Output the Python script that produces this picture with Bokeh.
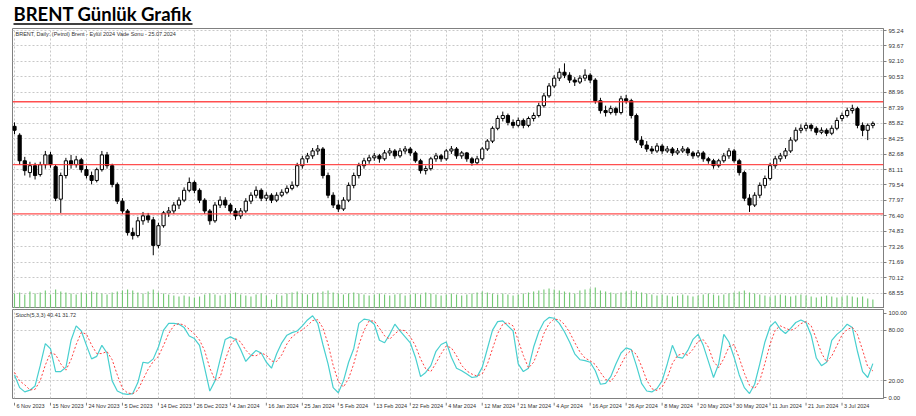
from bokeh.plotting import figure
from bokeh.layouts import column
from bokeh.models import (ColumnDataSource, Range1d, FixedTicker, Span, Label,
                          PrintfTickFormatter)
from bokeh.embed import file_html
from bokeh.resources import INLINE
from bokeh.core.properties import value

# ---------------- data ----------------
title_text = "BRENT Günlük Grafik"
header_text = "BRENT, Daily: (Petrol) Brent - Eylül 2024 Vade Sonu - 25.07.2024"
stoch_text = "Stoch(5,3,3) 40.41 31.72"

tick_labels = ["6 Nov 2023", "15 Nov 2023", "24 Nov 2023", "5 Dec 2023", "14 Dec 2023",
               "26 Dec 2023", "4 Jan 2024", "16 Jan 2024", "25 Jan 2024", "5 Feb 2024",
               "13 Feb 2024", "22 Feb 2024", "4 Mar 2024", "12 Mar 2024", "21 Mar 2024",
               "4 Apr 2024", "16 Apr 2024", "26 Apr 2024", "8 May 2024", "20 May 2024",
               "30 May 2024", "11 Jun 2024", "21 Jun 2024", "3 Jul 2024"]
tick_bars = [0, 7, 14, 21, 28, 35, 42, 49, 56, 63, 70, 77, 84, 91, 98, 105, 112, 119,
             126, 133, 140, 147, 154, 161]

price_ticks = [68.55, 70.12, 71.69, 73.26, 74.83, 76.40, 77.97, 79.54, 81.11, 82.68,
               84.25, 85.82, 87.39, 88.96, 90.53, 92.10, 93.67, 95.24]
stoch_ticks = [0, 20, 80, 100]
stoch_levels = [20, 80]
levels = [88.00, 81.60, 76.60]

# daily candles (open, high, low, close)
opens = [85.5, 84.6, 82.0, 80.8, 81.5, 80.6, 81.6, 82.6, 81.4, 78.1,
         80.5, 82.0, 81.6, 82.1, 81.1, 80.5, 80.0, 81.1, 82.6, 81.5,
         79.6, 77.9, 76.9, 74.7, 74.4, 75.9, 76.4, 76.0, 73.4, 75.4,
         76.7, 76.9, 77.5, 78.0, 79.0, 79.8, 79.0, 78.0, 76.9, 75.9,
         77.5, 78.0, 77.5, 76.9, 76.4, 76.9, 77.9, 78.5, 79.0, 78.2,
         78.5, 78.0, 78.5, 78.8, 79.2, 79.5, 81.5, 82.2, 82.5, 83.0,
         83.2, 80.5, 78.5, 77.5, 77.1, 78.0, 79.5, 80.5, 81.5, 82.0,
         82.3, 82.5, 82.2, 82.8, 83.0, 82.5, 83.0, 83.2, 82.8, 82.0,
         81.0, 81.2, 82.2, 82.5, 82.2, 83.0, 83.2, 82.5, 82.8, 82.2,
         81.8, 82.2, 83.2, 84.0, 85.3, 86.3, 86.6, 85.9, 85.6, 86.1,
         85.6, 86.3, 86.6, 87.6, 88.6, 89.6, 90.4, 91.0, 90.7, 90.2,
         90.0, 90.4, 90.7, 90.2, 88.1, 87.1, 86.9, 87.3, 86.9, 88.3,
         88.1, 86.6, 84.1, 83.6, 83.2, 83.0, 83.5, 83.0, 83.2, 82.8,
         83.0, 83.2, 82.8, 82.5, 82.8, 82.2, 82.0, 81.5, 82.0, 82.5,
         83.0, 82.0, 80.8, 78.2, 77.5, 78.5, 79.5, 80.2, 81.5, 82.2,
         82.5, 83.0, 84.1, 85.1, 85.3, 85.6, 85.3, 84.9, 85.1, 84.8,
         85.3, 86.3, 86.6, 87.1, 87.3, 85.6, 85.1, 85.6]
highs = [85.9, 84.8, 82.4, 81.9, 81.8, 81.9, 83.0, 82.9, 81.6, 80.8,
         82.3, 82.6, 82.5, 82.3, 81.5, 80.9, 81.3, 83.0, 82.9, 81.7,
         79.8, 78.2, 77.1, 75.2, 76.3, 76.8, 76.7, 76.3, 75.7, 76.9,
         77.3, 77.8, 78.3, 79.3, 80.3, 80.0, 79.2, 78.2, 77.1, 77.8,
         78.4, 78.3, 77.7, 77.2, 77.2, 78.2, 78.8, 79.4, 79.2, 78.8,
         78.7, 78.8, 79.1, 79.5, 79.9, 81.8, 82.5, 82.8, 83.3, 83.6,
         83.4, 80.8, 78.8, 78.0, 78.3, 79.8, 80.8, 81.8, 82.3, 82.6,
         82.8, 82.7, 83.1, 83.3, 83.2, 83.3, 83.5, 83.4, 83.0, 82.2,
         81.5, 82.4, 82.8, 82.7, 83.2, 83.5, 83.4, 83.0, 82.9, 82.4,
         82.5, 83.4, 84.2, 85.5, 86.6, 87.0, 86.8, 86.2, 86.4, 86.3,
         86.5, 86.9, 87.9, 88.9, 89.9, 90.7, 91.4, 91.9, 91.0, 90.5,
         90.7, 91.3, 90.9, 90.4, 88.4, 87.6, 87.6, 87.5, 88.6, 88.7,
         88.3, 86.8, 84.5, 84.0, 83.5, 83.8, 83.7, 83.5, 83.4, 83.3,
         83.5, 83.4, 83.0, 83.1, 83.0, 82.4, 82.2, 82.2, 82.8, 83.3,
         83.2, 82.2, 81.0, 78.6, 78.8, 79.8, 80.5, 81.8, 82.5, 82.8,
         83.3, 84.4, 85.4, 85.7, 85.9, 85.8, 85.5, 85.4, 85.3, 85.6,
         86.4, 86.9, 87.4, 87.7, 87.5, 85.9, 85.8, 86.0]
lows = [84.7, 81.6, 80.5, 80.3, 80.1, 80.4, 81.2, 81.3, 77.9, 76.7,
        80.2, 81.2, 81.3, 80.8, 80.2, 79.6, 79.8, 80.9, 81.2, 79.3,
        77.6, 76.6, 74.4, 74.0, 74.2, 75.5, 75.7, 72.4, 73.1, 75.2,
        76.3, 76.6, 77.1, 77.8, 78.8, 78.7, 77.7, 76.6, 75.5, 75.7,
        77.2, 77.2, 76.6, 76.0, 76.1, 76.7, 77.6, 78.2, 77.9, 77.9,
        77.7, 77.8, 78.3, 78.6, 79.0, 79.3, 81.2, 81.8, 82.2, 82.6,
        80.2, 78.2, 77.2, 76.8, 76.9, 77.8, 79.2, 80.2, 81.2, 81.7,
        82.0, 81.8, 82.0, 82.5, 82.2, 82.3, 82.7, 82.5, 81.8, 80.7,
        80.6, 81.0, 81.9, 81.9, 82.0, 82.7, 82.2, 82.2, 81.9, 81.5,
        81.6, 82.0, 83.0, 83.8, 85.1, 86.0, 85.6, 85.3, 85.4, 85.3,
        85.4, 86.0, 86.4, 87.4, 88.4, 89.4, 90.1, 90.4, 89.9, 89.6,
        89.8, 90.1, 89.9, 87.8, 86.8, 86.5, 86.7, 86.6, 86.7, 87.8,
        86.3, 83.8, 83.3, 82.9, 82.7, 82.8, 82.7, 82.8, 82.5, 82.6,
        82.8, 82.5, 82.2, 82.3, 81.9, 81.7, 81.2, 81.3, 81.8, 82.2,
        81.8, 80.5, 77.9, 76.8, 77.3, 78.2, 79.2, 80.0, 81.2, 81.9,
        82.2, 82.8, 83.9, 84.8, 85.0, 85.0, 84.6, 84.7, 84.5, 84.6,
        85.1, 86.0, 86.4, 86.8, 85.3, 84.5, 84.1, 85.3]
closes = [85.1, 82.0, 81.0, 81.5, 80.5, 81.6, 82.6, 81.6, 78.2, 80.5,
          82.0, 81.6, 82.1, 81.1, 80.5, 80.0, 81.1, 82.6, 81.5, 79.6,
          77.9, 76.9, 74.7, 74.4, 75.9, 76.4, 76.0, 73.4, 75.4, 76.7,
          76.9, 77.5, 78.0, 79.0, 79.8, 79.0, 78.0, 76.9, 75.9, 77.5,
          78.0, 77.5, 76.9, 76.4, 76.9, 77.9, 78.5, 79.0, 78.2, 78.5,
          78.0, 78.5, 78.8, 79.2, 79.5, 81.5, 82.2, 82.5, 83.0, 83.2,
          80.5, 78.5, 77.5, 77.1, 78.0, 79.5, 80.5, 81.5, 82.0, 82.3,
          82.5, 82.2, 82.8, 83.0, 82.5, 83.0, 83.2, 82.8, 82.0, 81.0,
          81.2, 82.2, 82.5, 82.2, 83.0, 83.2, 82.5, 82.8, 82.2, 81.8,
          82.2, 83.2, 84.0, 85.3, 86.3, 86.6, 85.9, 85.6, 86.1, 85.6,
          86.3, 86.6, 87.6, 88.6, 89.6, 90.4, 91.0, 90.7, 90.2, 90.0,
          90.4, 90.7, 90.2, 88.1, 87.1, 86.9, 87.3, 86.9, 88.3, 88.1,
          86.6, 84.1, 83.6, 83.2, 83.0, 83.5, 83.0, 83.2, 82.8, 83.0,
          83.2, 82.8, 82.5, 82.8, 82.2, 82.0, 81.5, 82.0, 82.5, 83.0,
          82.0, 80.8, 78.2, 77.5, 78.5, 79.5, 80.2, 81.5, 82.2, 82.5,
          83.0, 84.1, 85.1, 85.3, 85.6, 85.3, 84.9, 85.1, 84.8, 85.3,
          86.1, 86.6, 87.1, 87.3, 85.6, 85.1, 85.6, 85.8]

volumes = [15, 16, 14, 17, 15, 16, 18, 14, 19, 17, 16, 15, 14, 16, 15, 17, 16, 15, 14, 16,
           17, 18, 19, 18, 16, 15, 17, 19, 16, 15, 14, 13, 12, 13, 12, 11, 12, 14, 15, 14,
           13, 14, 15, 16, 14, 13, 12, 14, 15, 13, 9, 14, 13, 15, 16, 17, 15, 14, 15, 16,
           17, 18, 16, 15, 14, 15, 16, 15, 14, 13, 14, 15, 14, 13, 14, 15, 13, 14, 15, 14,
           16, 15, 14, 13, 14, 15, 14, 13, 14, 15, 16, 17, 16, 15, 14, 15, 14, 13, 14, 15,
           16, 17, 18, 19, 20, 19, 18, 17, 16, 15, 18, 19, 20, 21, 18, 17, 16, 15, 16, 17,
           18, 17, 16, 15, 14, 13, 14, 13, 12, 13, 14, 13, 12, 13, 14, 15, 14, 13, 14, 15,
           16, 17, 18, 16, 15, 14, 13, 12, 13, 14, 13, 12, 13, 14, 13, 12, 11, 12, 13, 12,
           11, 12, 13, 12, 11, 12, 10, 9]

stoch_k = [27, 12, 7, 9, 14, 38, 64, 58, 31, 31,
           36, 68, 85, 79, 62, 46, 49, 62, 53, 20,
           8, 5, 4, 5, 18, 42, 41, 46, 60, 80,
           88, 88, 87, 83, 73, 70, 62, 35, 8, 20,
           45, 69, 72, 69, 57, 43, 50, 56, 53, 42,
           35, 52, 65, 74, 77, 79, 85, 92, 97, 88,
           63, 40, 12, 6, 20, 42, 58, 88, 93, 92,
           87, 68, 65, 75, 87, 79, 72, 65, 48, 25,
           30, 38, 55, 63, 66, 48, 35, 32, 28, 24,
           25, 36, 58, 80, 90, 91, 85, 79, 40, 31,
           35, 60, 78, 90, 95, 94, 88, 78, 66, 52,
           45, 44, 42, 32, 16, 17, 25, 40, 53, 59,
           57, 38, 17, 8, 7, 11, 20, 40, 62, 48,
           47, 56, 69, 75, 62, 43, 24, 40, 75, 66,
           48, 27, 12, 5, 16, 40, 66, 84, 90, 81,
           76, 82, 89, 92, 89, 74, 47, 38, 42, 68,
           75, 80, 87, 83, 55, 31, 24, 40.41]
stoch_d = [30, 20, 15.3, 9.3, 10, 20.3, 38.7, 53.3, 51, 40,
           32.7, 45, 63, 77.3, 75.3, 62.3, 52.3, 52.3, 54.7, 45,
           27, 11, 5.7, 4.7, 9, 21.7, 33.7, 43, 49, 62,
           76, 85.3, 87.7, 86, 81, 75.3, 68.3, 55.7, 35, 21,
           24.3, 44.7, 62, 70, 66, 56.3, 50, 49.7, 53, 50.3,
           43.3, 43, 50.7, 63.7, 72, 76.7, 80.3, 85.3, 91.3, 92.3,
           82.7, 63.7, 38.3, 19.3, 12.7, 22.7, 40, 62.7, 79.7, 91,
           90.7, 82.3, 73.3, 69.3, 75.7, 80.3, 79.3, 72, 61.7, 46,
           34.3, 31, 41, 52, 61.3, 59, 49.7, 38.3, 31.7, 28,
           25.7, 28.3, 39.7, 58, 76, 87, 88.7, 85, 68, 50,
           35.3, 42, 57.7, 76, 87.7, 93, 92.3, 86.7, 77.3, 65.3,
           54.3, 47, 43.7, 39.3, 30, 21.7, 19.3, 27.3, 39.3, 50.7,
           56.3, 51.3, 37.3, 21, 10.7, 8.7, 12.7, 23.7, 40.7, 50,
           52.3, 50.3, 57.3, 66.7, 68.7, 60, 43, 35.7, 46.3, 60.3,
           63, 47, 29, 14.7, 11, 20.3, 40.7, 63.3, 80, 85,
           82.3, 79.7, 82.3, 87.7, 90, 85, 70, 53, 42.3, 49.3,
           61.7, 74.3, 80.7, 83.3, 75, 56.3, 36.7, 31.72]

# ---------------- styling ----------------
W = 916
GRID = "#c8c8c8"
AX = "#808080"
FONT = "Liberation Sans"
n = len(closes)
idx = list(range(n))
x_range = Range1d(-0.39, 169.07)
common = dict(output_backend="svg", toolbar_location=None, title=None,
              min_border_left=12, min_border_right=33)

# title strip (data units = pixels)
t = figure(width=W, height=26, x_range=Range1d(12, 883), y_range=Range1d(0, 26),
           min_border_top=0, min_border_bottom=0, x_axis_location=None,
           y_axis_location=None, **common)
t.grid.visible = False
t.outline_line_color = None
t.text(x=[13], y=[12.5], text=[title_text], text_font=value("Lato"),
       text_font_size="18.5px", text_font_style="bold", text_color="black",
       text_baseline="middle")
t.segment(x0=[13], y0=[2.5], x1=[192], y1=[2.5], line_color="black", line_width=1.5)

# main price panel
ymin = 95.24 - (308 - 30) / 9.84
ymax = 95.24 + 2 / 9.84
p = figure(width=W, height=282, x_range=x_range, y_range=Range1d(ymin, ymax),
           y_axis_location="right", x_axis_location=None, min_border_top=2,
           min_border_bottom=0, **common)
p.outline_line_color = AX
p.yaxis.ticker = FixedTicker(ticks=price_ticks)
p.yaxis.formatter = PrintfTickFormatter(format="%.2f")
p.ygrid.ticker = FixedTicker(ticks=price_ticks)
p.xgrid.ticker = FixedTicker(ticks=tick_bars)

# volume, on a hidden scale at the bottom of the price panel
p.extra_y_ranges = {"vol": Range1d(0, max(volumes) * 280 / 21)}
vsrc = ColumnDataSource(dict(x=idx, v=volumes))
p.vbar(x="x", top="v", bottom=0, width=0.22, source=vsrc, y_range_name="vol",
       fill_color="#74c874", line_color=None)

src = ColumnDataSource(dict(
    x=idx, h=highs, l=lows,
    top=[max(o, c) for o, c in zip(opens, closes)],
    bot=[min(o, c) for o, c in zip(opens, closes)],
    fill=["white" if c >= o else "black" for o, c in zip(opens, closes)]))
p.segment(x0="x", y0="l", x1="x", y1="h", source=src, line_color="black", line_width=1)
p.vbar(x="x", top="top", bottom="bot", width=0.62, source=src, fill_color="fill",
       line_color="black", line_width=1)

for lv in levels:
    p.add_layout(Span(location=lv, dimension="width", line_color="#ff3030",
                      line_width=1.3, line_alpha=0.85))
    p.add_layout(Label(x=x_range.end, y=lv, text=f"{lv:.2f}", x_offset=1,
                       text_font=FONT, text_font_size="6px", text_color="white",
                       text_baseline="middle", background_fill_color="#ff0000"))
p.add_layout(Label(x=x_range.end, y=closes[-1], text=f"{closes[-1]:.2f}", x_offset=1,
                   text_font=FONT, text_font_size="6px", text_color="white",
                   text_baseline="middle", background_fill_color="#c0c0c0"))
p.add_layout(Label(x=x_range.start, y=ymax, text=header_text, x_offset=3, y_offset=-2,
                   text_font=FONT, text_font_size="5.5px", text_color="#333333",
                   text_baseline="top"))

# stochastic panel
s_lo = -(398 - 397.3) / 0.846
s_hi = 100 + (312.7 - 309) / 0.846
s = figure(width=W, height=94, x_range=x_range, y_range=Range1d(s_lo, s_hi),
           y_axis_location="right", x_axis_location=None, min_border_top=1,
           min_border_bottom=4, **common)
s.outline_line_color = AX
s.yaxis.ticker = FixedTicker(ticks=stoch_ticks)
s.yaxis.formatter = PrintfTickFormatter(format="%.2f")
s.ygrid.ticker = FixedTicker(ticks=stoch_levels)
s.xgrid.ticker = FixedTicker(ticks=tick_bars)

for ax in (p.yaxis, s.yaxis):
    ax.major_label_text_font = FONT
    ax.major_label_text_font_size = "6px"
    ax.major_label_text_color = "#333333"
    ax.axis_line_color = AX
    ax.major_tick_line_color = AX
    ax.major_tick_out = 3
    ax.major_tick_in = 0
    ax.minor_tick_line_color = None
    ax.major_label_standoff = 2
for g in (p.xgrid, p.ygrid, s.xgrid, s.ygrid):
    g.grid_line_color = GRID
    g.grid_line_dash = "2 2"

ssrc = ColumnDataSource(dict(x=idx, k=stoch_k, d=stoch_d))
s.line(x="x", y="k", source=ssrc, line_color="#48cfcf", line_width=1.2)
s.line(x="x", y="d", source=ssrc, line_color="#ff4040", line_width=1, line_dash="2 2")
s.add_layout(Label(x=x_range.start, y=s_hi, text=stoch_text, x_offset=3, y_offset=-2,
                   text_font=FONT, text_font_size="5.5px", text_color="#333333",
                   text_baseline="top"))

# date strip: tick marks and left-aligned date labels
d = figure(width=W, height=14, x_range=x_range, y_range=Range1d(0, 14),
           min_border_top=0, min_border_bottom=0, x_axis_location=None,
           y_axis_location=None, **common)
d.grid.visible = False
d.outline_line_color = None
dsrc = ColumnDataSource(dict(x=tick_bars, text=tick_labels,
                             y0=[14] * len(tick_bars), y1=[11] * len(tick_bars),
                             ym=[10.5] * len(tick_bars)))
d.segment(x0="x", y0="y0", x1="x", y1="y1", source=dsrc, line_color=AX, line_width=1)
d.text(x="x", y="ym", text="text", source=dsrc, x_offset=2, text_font=value(FONT),
       text_font_size="5.5px", text_color="#333333", text_align="left",
       text_baseline="middle")

layout = column(t, p, s, d, spacing=0)
open("out.html", "w").write(file_html(layout, INLINE))
